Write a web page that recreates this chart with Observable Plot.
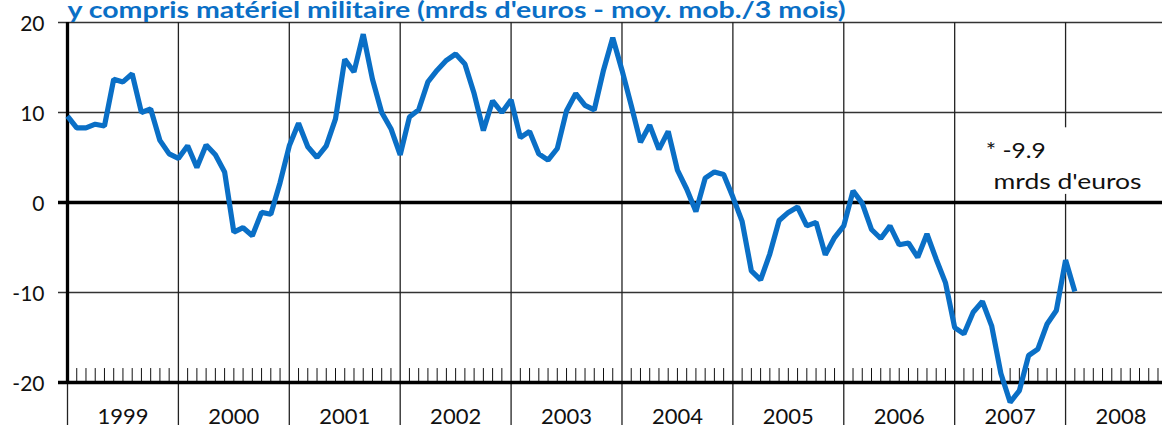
<!DOCTYPE html>
<html>
<head>
<meta charset="utf-8">
<script src="https://cdn.jsdelivr.net/npm/d3@7"></script>
<script src="https://cdn.jsdelivr.net/npm/@observablehq/plot@0.6"></script>
<style>
  body { margin: 0; background: #fff; }
  #chart svg { display: block; }
</style>
</head>
<body>
<div id="chart"></div>
<script>
// ---- Data ----
const title = "y compris matériel militaire (mrds d'euros - moy. mob./3 mois)";
const years = [1999, 2000, 2001, 2002, 2003, 2004, 2005, 2006, 2007, 2008];
const yTicks = [-20, -10, 0, 10, 20];

// monthly values (moyenne mobile sur 3 mois), one array per year
const v1999 = [9.6, 8.3, 8.3, 8.7, 8.5, 13.7, 13.4, 14.3, 10.0, 10.4, 6.9, 5.4];
const v2000 = [4.9, 6.3, 3.9, 6.4, 5.3, 3.4, -3.3, -2.8, -3.7, -1.1, -1.3, 2.2];
const v2001 = [6.3, 8.8, 6.2, 5.0, 6.3, 9.3, 15.9, 14.5, 18.7, 13.7, 10.0, 8.2];
const v2002 = [5.3, 9.5, 10.3, 13.4, 14.7, 15.8, 16.5, 15.4, 12.1, 8.0, 11.3, 10.0];
const v2003 = [11.4, 7.2, 7.9, 5.4, 4.7, 6.0, 10.2, 12.1, 10.8, 10.3, 14.7, 18.3];
const v2004 = [14.7, 10.8, 6.7, 8.6, 5.9, 7.9, 3.6, 1.5, -1.0, 2.7, 3.4, 3.1];
const v2005 = [0.6, -2.1, -7.6, -8.6, -5.7, -2.0, -1.1, -0.5, -2.6, -2.2, -5.8, -3.9];
const v2006 = [-2.6, 1.3, -0.1, -3.0, -4.0, -2.6, -4.7, -4.5, -6.1, -3.5, -6.3, -8.9];
const v2007 = [-13.9, -14.6, -12.2, -11.0, -13.7, -19.0, -22.2, -20.9, -17.0, -16.3, -13.5, -12.0];
const v2008 = [-6.4, -9.9];

// annotation (data coordinates)
const noteLines = [
  { text: "* -9.9", x: 2007.28, y: 5.0, w: 60 },
  { text: "mrds d'euros", x: 2007.35, y: 1.55, w: 148 }
];
const noteBox = [{ x1: 2007.25, x2: 2008.75, y1: 0.9, y2: 8.3 }];

// ---- Build table ----
const series = [v1999, v2000, v2001, v2002, v2003, v2004, v2005, v2006, v2007, v2008];
const data = series.flatMap((vals, i) => vals.map((v, j) => ({ t: years[i] + j / 12, v })));
const xMax = 2008.874;
const monthTicks = d3.range(1, Math.floor((xMax - 1999) * 12) + 1)
  .filter(k => k % 12 !== 0)
  .map(k => 1999 + k / 12);
const yearLabels = years.map(y => ({ t: y + 0.5, label: String(y) }));

const blue = "#0a6fc6";
const font = "Lato, 'Noto Sans', sans-serif";

const chart = Plot.plot({
  width: 1162,
  height: 425,
  marginLeft: 67,
  marginRight: 0,
  marginTop: 22,
  marginBottom: 43,
  style: { fontFamily: font, fontSize: "21px", color: "#111", background: "#fff" },
  x: { type: "linear", domain: [1999, xMax], axis: null },
  y: { domain: [-20, 20], axis: null },
  marks: [
    // thin horizontal gridlines (extend left as ticks)
    Plot.ruleY([10, -10, 20], { insetLeft: -9, stroke: "#333", strokeWidth: 1.3 }),
    // vertical year gridlines (extend below the axis)
    Plot.ruleX(years.slice(1), { y1: 20, y2: -25, stroke: "#222", strokeWidth: 1.3 }),
    Plot.ruleX([years[0]], { y1: -20, y2: -25, stroke: "#222", strokeWidth: 1.3 }),
    // white box behind annotation
    Plot.rect(noteBox, { x1: "x1", x2: "x2", y1: "y1", y2: "y2", fill: "#fff" }),
    // monthly ticks on the bottom line
    Plot.ruleX(monthTicks, { y1: -20, y2: -18.45, stroke: "#111", strokeWidth: 1 }),
    // thick lines
    Plot.ruleY([0, -20], { insetLeft: -9, stroke: "#000", strokeWidth: 3.5 }),
    Plot.ruleX([years[0]], { y1: -20, y2: 20, stroke: "#000", strokeWidth: 3.3 }),
    // y axis labels (plain hyphen minus, as in the source)
    Plot.axisY(yTicks, { tickSize: 0, tickPadding: 23, fontSize: 21, dy: 2, fill: "#111", tickFormat: d => String(d) }),
    // year labels
    Plot.text(yearLabels, { x: "t", y: -20, text: "label", lineAnchor: "bottom", dy: 41, fontSize: 22, fill: "#111" }),
    // series line
    Plot.line(data, { x: "t", y: "v", stroke: blue, strokeWidth: 5.2, strokeLinejoin: "miter", strokeLinecap: "butt" }),
    // annotation
    Plot.text(noteLines, { x: "x", y: "y", text: "text", textAnchor: "start", lineAnchor: "bottom", fontSize: 21, fill: "#111" }),
    // title (clipped at the top, as in the source)
    Plot.text([title], { frameAnchor: "top-left", textAnchor: "start", lineAnchor: "bottom", dy: -4.5, fontSize: 23, fontWeight: "bold", fill: blue })
  ]
});

document.getElementById("chart").appendChild(chart);

// adjust text widths to match the source typography
const svg = d3.select(chart);
svg.selectAll("text").each(function () {
  const s = this.textContent;
  if (s === title) {
    d3.select(this).attr("textLength", 778).attr("lengthAdjust", "spacingAndGlyphs");
  }
  const n = noteLines.find(d => d.text === s);
  if (n) d3.select(this).attr("textLength", n.w).attr("lengthAdjust", "spacingAndGlyphs");
});
</script>
</body>
</html>
